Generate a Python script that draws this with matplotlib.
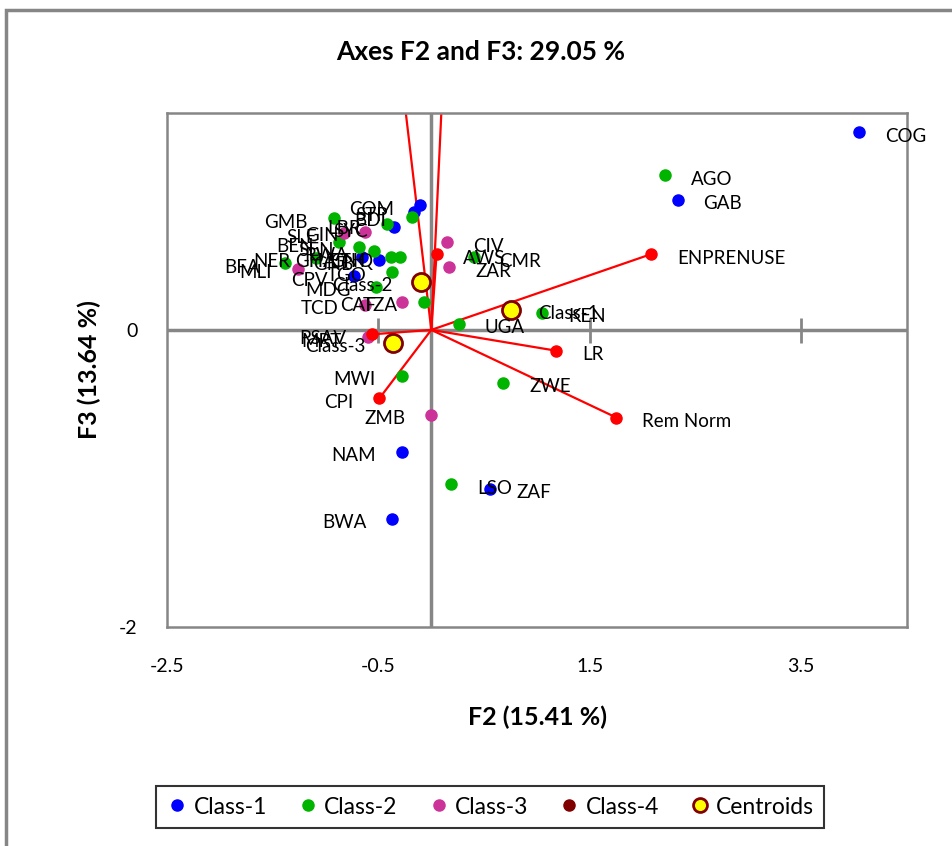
import numpy as np
import matplotlib.pyplot as plt
from matplotlib.lines import Line2D
from matplotlib.patches import Rectangle

plt.rcParams['font.family'] = ['Lato', 'DejaVu Sans']

# observations (F2, F3) per class
c1_names = ['COG', 'GAB', 'COM', 'STP', 'SYC', 'GHA', 'GNB', 'CPV', 'NAM', 'ZAF', 'BWA']
c1_x = [4.05, 2.33, -0.11, -0.16, -0.35, -0.66, -0.49, -0.73, -0.28, 0.56, -0.37]
c1_y = [1.33, 0.875, 0.84, 0.795, 0.69, 0.49, 0.47, 0.36, -0.82, -1.07, -1.27]

c2_names = ['AGO', 'BDI', 'LBR', 'GMB', 'BEN', 'SEN', 'RWA', 'ETH', 'GNQ', 'TGO', 'MDG',
            'TZA', 'BFA', 'NER', 'UGA', 'CMR', 'KEN', 'ZWE', 'MWI', 'LSO']
c2_x = [2.21, -0.18, -0.42, -0.92, -0.87, -0.68, -0.54, -0.38, -0.30, -0.37, -0.52,
        -0.07, -1.38, -1.09, 0.26, 0.40, 1.05, 0.68, -0.28, 0.19]
c2_y = [1.04, 0.76, 0.71, 0.75, 0.59, 0.56, 0.53, 0.49, 0.49, 0.39, 0.29,
        0.19, 0.45, 0.485, 0.04, 0.49, 0.114, -0.357, -0.31, -1.04]

c3_names = ['SLE', 'GIN', 'MLI', 'CAF', 'TCD', 'MRT', 'CIV', 'ZAR', 'ZMB']
c3_x = [-0.83, -0.63, -1.26, -0.28, -0.63, -0.60, 0.15, 0.17, 0.0]
c3_y = [0.65, 0.66, 0.41, 0.19, 0.17, -0.05, 0.59, 0.42, -0.57]

# centroids
cen_names = ['Class-1', 'Class-2', 'Class-3']
cen_x = [0.75, -0.10, -0.36]
cen_y = [0.135, 0.323, -0.088]

# variables (red vectors)
var_names = ['ENPRENUSE', 'LR', 'Rem Norm', 'CPI', 'PSAV', 'AWS', '', '']
var_x = [2.08, 1.18, 1.75, -0.49, -0.56, 0.05, -0.33, 0.13]
var_y = [0.51, -0.14, -0.59, -0.46, -0.03, 0.51, 2.0, 2.0]

blue, green, magenta, maroon = '#0000FF', '#00B400', '#CC3399', '#800000'
gray = '#868686'

fig = plt.figure(figsize=(9.52, 8.46), dpi=100)
fig.patches.append(Rectangle((6 / 952, -0.1), 1.2, 1 - 10 / 846 + 0.1, transform=fig.transFigure,
                             fill=False, edgecolor=gray, linewidth=2.5))
ax = fig.add_axes([167 / 952, 1 - 627 / 846, 740 / 952, 514 / 846])
ax.set_xlim(-2.5, 4.5)
ax.set_ylim(-2.0, 1.46)

for s in ax.spines.values():
    s.set_color(gray)
    s.set_linewidth(1.8)

ax.axhline(0, color=gray, lw=2.5, zorder=1)
ax.axvline(0, color=gray, lw=2.5, zorder=1)
xt = [-2.5, -0.5, 1.5, 3.5]
ax.plot(xt[1:], [0] * 3, ls='none', marker='|', ms=18, mew=2, color=gray, zorder=1)

for vx, vy in zip(var_x, var_y):
    ax.plot([0, vx], [0, vy], color='red', lw=1.6, zorder=2, clip_on=True)
ax.plot(var_x[:6], var_y[:6], 'o', color='red', ms=8, zorder=4)

ax.plot(c1_x, c1_y, 'o', color=blue, ms=8, zorder=3)
ax.plot(c2_x, c2_y, 'o', color=green, ms=8, zorder=3)
ax.plot(c3_x, c3_y, 'o', color=magenta, ms=8, zorder=3)
ax.plot(cen_x, cen_y, 'o', mfc='yellow', mec=maroon, mew=2, ms=13, zorder=5)


def label(names, xs, ys, gap=26):
    for n, x, y in zip(names, xs, ys):
        if not n:
            continue
        if x < 0.05 and not (n in ('AWS', 'LSO')):
            ax.annotate(n, (x, y), xytext=(-gap, -4), textcoords='offset pixels',
                        ha='right', va='center', fontsize=13.5, zorder=6)
        else:
            ax.annotate(n, (x, y), xytext=(gap, -4), textcoords='offset pixels',
                        ha='left', va='center', fontsize=13.5, zorder=6)


label(c1_names, c1_x, c1_y)
label(c2_names, c2_x, c2_y)
label(c3_names, c3_x, c3_y)
label(var_names, var_x, var_y)
label(cen_names, cen_x, cen_y, gap=28)

ax.set_xticks(xt)
ax.set_xticklabels(['-2.5', '-0.5', '1.5', '3.5'], fontsize=14)
ax.set_yticks([-2, 0])
ax.set_yticklabels(['-2', '0'], fontsize=14)
ax.tick_params(axis='x', length=0, pad=22)
ax.tick_params(axis='y', length=0, pad=21)

ax.set_xlabel('F2 (15.41 %)', fontsize=18, fontweight='bold', labelpad=22)
ax.set_ylabel('F3 (13.64 %)', fontsize=18, fontweight='bold', labelpad=13)
fig.text(481 / 952, 1 - 52 / 846, 'Axes F2 and F3: 29.05 %', ha='center', va='center',
         fontsize=19, fontweight='bold')

handles = [
    Line2D([], [], ls='none', marker='o', color=blue, ms=8),
    Line2D([], [], ls='none', marker='o', color=green, ms=8),
    Line2D([], [], ls='none', marker='o', color=magenta, ms=8),
    Line2D([], [], ls='none', marker='o', color=maroon, ms=8),
    Line2D([], [], ls='none', marker='o', mfc='yellow', mec=maroon, mew=2, ms=10),
]
leg = fig.legend(handles, ['Class-1', 'Class-2', 'Class-3', 'Class-4', 'Centroids'],
                 loc='center', bbox_to_anchor=(490 / 952, 1 - 807 / 846), ncol=5,
                 fontsize=16.5, frameon=True, fancybox=False, handletextpad=0.2,
                 columnspacing=1.3, handlelength=1.0, borderpad=0.45, borderaxespad=0)
leg.get_frame().set_edgecolor('black')
leg.get_frame().set_linewidth(1.5)

fig.savefig('out.png', dpi=100)
